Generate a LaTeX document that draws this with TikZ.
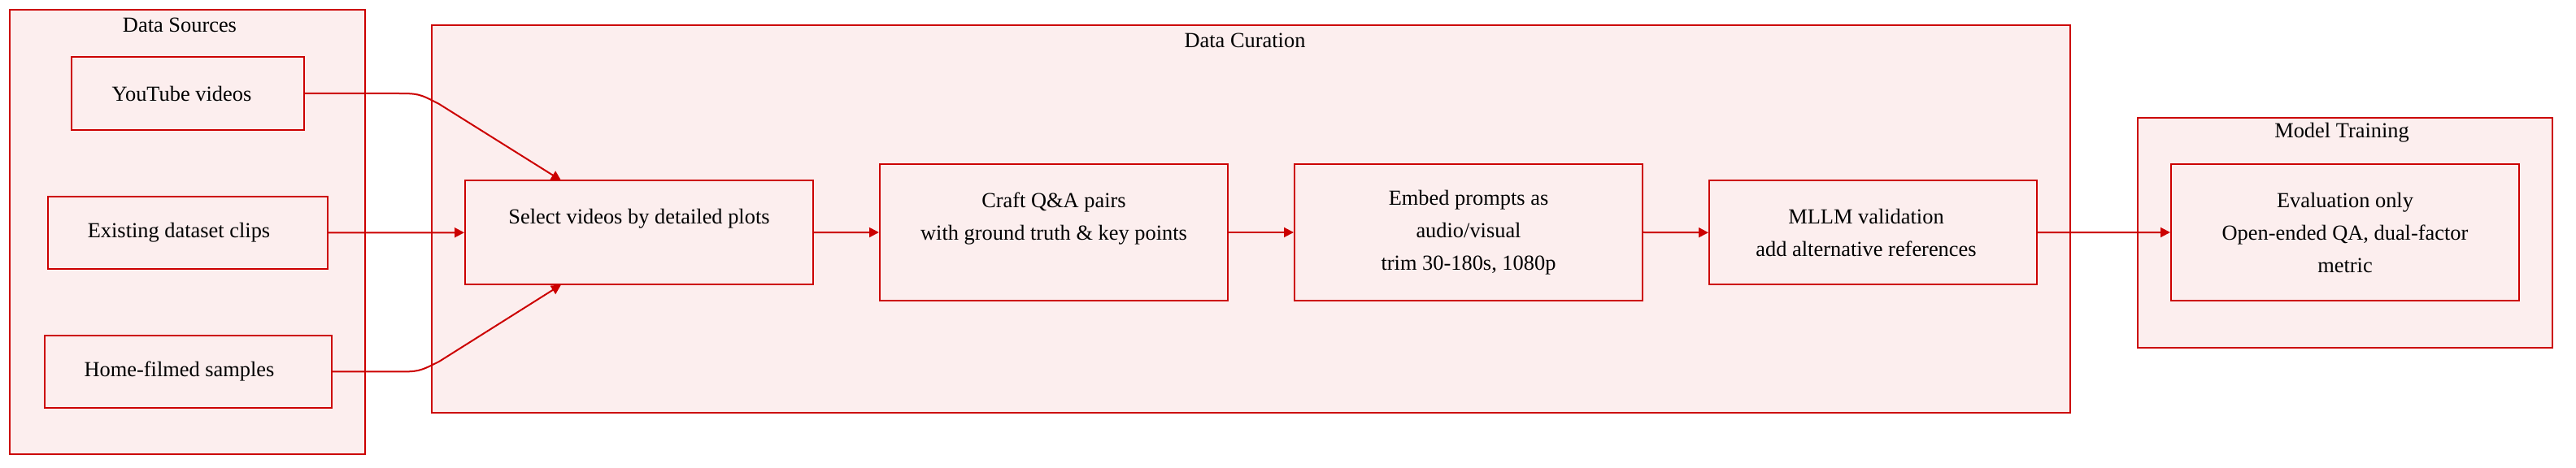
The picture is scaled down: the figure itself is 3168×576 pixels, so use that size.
\documentclass[tikz,border=0pt]{standalone}
\usepackage{fontspec}
\setmainfont{Liberation Serif}
\usetikzlibrary{arrows.meta}
\definecolor{mred}{HTML}{CC0000}
\definecolor{mfill}{HTML}{FCEEEE}
\tikzset{
  cluster/.style={draw=mred, fill=mfill, line width=0.75pt, inner sep=0pt},
  stepbox/.style={draw=mred, fill=mfill, line width=1pt, inner sep=0pt, align=center,
     font=\fontsize{13.2}{20}\selectfont},
  ctitle/.style={font=\fontsize{13.2}{16}\selectfont, inner sep=0pt},
  flow/.style={draw=mred, line width=1pt, -{Triangle[length=6pt,width=6pt]}}
}
\begin{document}
\begin{tikzpicture}[x=0.5pt,y=-0.5pt]
\useasboundingbox (0,0) rectangle (3168,576);
% clusters
\node[cluster, minimum width=218.5pt, minimum height=273.5pt] (ds) at (230.5,285.5) {};
\node[ctitle] (dsl) at (221,31) {Data Sources};
\node[cluster, minimum width=1007.5pt, minimum height=238.5pt] (dc) at (1538.5,269.5) {};
\node[ctitle] (dcl) at (1531,50) {Data Curation};
\node[cluster, minimum width=255pt, minimum height=141.5pt] (mt) at (2884,286.5) {};
\node[ctitle] (mtl) at (2880,163.5) {Model Training};
% nodes
\node[stepbox, minimum width=143pt, minimum height=45pt] (yt) at (231,115) {YouTube videos\hspace*{7.5pt}};
\node[stepbox, minimum width=172pt, minimum height=44.5pt] (ex) at (231,286.5) {Existing dataset clips\hspace*{11pt}};
\node[stepbox, minimum width=176.5pt, minimum height=44.5pt] (hf) at (231.5,457.5) {Home-filmed samples\hspace*{11pt}};
\node[stepbox, minimum width=214pt, minimum height=64.25pt] (sel) at (786,286.25) {Select videos by detailed plots\\\mbox{}};
\node[stepbox, minimum width=214pt, minimum height=84pt] (cr) at (1296,286) {Craft Q\&A pairs\\with ground truth \& key points\\\mbox{}};
\node[stepbox, minimum width=214pt, minimum height=84pt] (em) at (1806,286) {Embed prompts as\\audio/visual\\trim 30-180s, 1080p};
\node[stepbox, minimum width=201.5pt, minimum height=64.25pt] (ml) at (2303.5,286.25) {MLLM validation\hspace*{8.5pt}\\add alternative references\hspace*{8.5pt}};
\node[stepbox, minimum width=214pt, minimum height=84pt] (ev) at (2884,286) {Evaluation only\\Open-ended QA, dual-factor\\metric};
% helper coordinates
\coordinate (ya) at (485,115);
\coordinate (yb) at (515,115);
\coordinate (yc) at (540,128);
\coordinate (sin1) at (690,222);
\coordinate (ha) at (485,457.5);
\coordinate (hb) at (515,457.5);
\coordinate (hc) at (540,445);
\coordinate (sin2) at (690,350.5);
% edges
\draw[flow] (yt.east) -- (ya) .. controls (yb) .. (yc) -- (sin1);
\draw[flow] (ex.east) -- (sel.west);
\draw[flow] (hf.east) -- (ha) .. controls (hb) .. (hc) -- (sin2);
\draw[flow] (sel.east) -- (cr.west);
\draw[flow] (cr.east) -- (em.west);
\draw[flow] (em.east) -- (ml.west);
\draw[flow] (ml.east) -- (ev.west);
\end{tikzpicture}
\end{document}
